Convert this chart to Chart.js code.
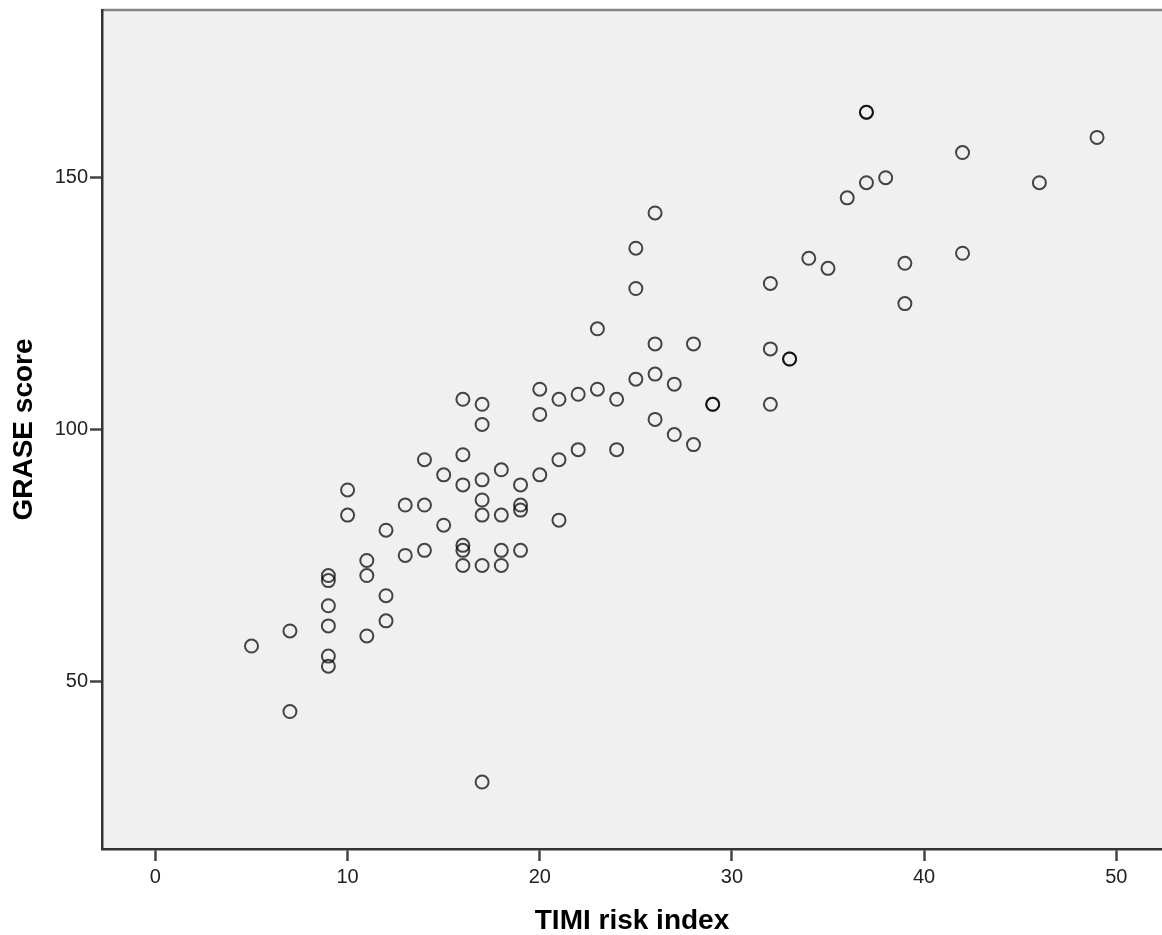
<!DOCTYPE html>
<html>
<head>
<meta charset="utf-8">
<title>GRASE vs TIMI</title>
<script src="https://cdn.jsdelivr.net/npm/chart.js@4.4.1/dist/chart.umd.min.js"></script>
<style>
  html, body { margin: 0; padding: 0; background: #fff; overflow: hidden; }
  #wrap { width: 1162px; height: 935px; position: relative; }
</style>
</head>
<body>
<div id="wrap"><canvas id="scatterChart"></canvas></div>
<script>
// data
const timi = [
    5, 7, 7, 9, 9, 9, 9, 9, 9, 10, 10, 11, 11, 11, 12, 12, 12, 13, 13,
    14, 14, 14, 15, 15, 16, 16, 16, 16, 16, 16, 17, 17, 17, 17, 17, 17, 17,
    18, 18, 18, 18, 19, 19, 19, 19, 20, 20, 20, 21, 21, 21, 22, 22, 23, 23,
    24, 24, 25, 25, 25, 26, 26, 26, 26, 27, 27, 28, 28, 29, 29,
    32, 32, 32, 33, 33, 34, 35, 36, 37, 37, 37, 38, 39, 39, 42, 42, 46, 49
];
const grase = [
    57, 60, 44, 71, 70, 65, 61, 55, 53, 88, 83, 74, 71, 59, 80, 67, 62, 85, 75,
    94, 85, 76, 91, 81, 106, 95, 89, 77, 76, 73, 105, 101, 90, 86, 83, 73, 30,
    92, 83, 76, 73, 89, 85, 84, 76, 108, 103, 91, 106, 94, 82, 107, 96, 120, 108,
    106, 96, 136, 128, 110, 143, 117, 111, 102, 109, 99, 117, 97, 105, 105,
    129, 116, 105, 114, 114, 134, 132, 146, 163, 163, 149, 150, 133, 125, 155, 135, 149, 158
];
const xTicks = [0, 10, 20, 30, 40, 50];
const yTicks = [50, 100, 150];

const FONT = '"Liberation Sans", Arial, sans-serif';

// grey plot background + top frame line
const plotFrame = {
    id: 'plotFrame',
    beforeDraw(chart) {
        const a = chart.chartArea;
        const c = chart.ctx;
        c.save();
        c.fillStyle = '#f0f0f0';
        c.fillRect(a.left, a.top, a.right - a.left, a.bottom - a.top);
        c.strokeStyle = '#858585';
        c.lineWidth = 2.5;
        c.beginPath();
        c.moveTo(a.left, a.top);
        c.lineTo(a.right, a.top);
        c.stroke();
        c.restore();
    }
};

const ctx = document.getElementById('scatterChart').getContext('2d');
new Chart(ctx, {
    type: 'scatter',
    data: {
        datasets: [{
            data: timi.map((x, i) => ({ x: x, y: grase[i] })),
            pointStyle: 'circle',
            pointRadius: 6.5,
            pointHoverRadius: 6.5,
            borderWidth: 2,
            borderColor: 'rgba(0, 0, 0, 0.72)',
            backgroundColor: 'rgba(0, 0, 0, 0)'
        }]
    },
    options: {
        responsive: true,
        maintainAspectRatio: false,
        animation: false,
        layout: { autoPadding: false, padding: { top: 10, right: 0, bottom: 0, left: 0 } },
        plugins: {
            legend: { display: false },
            tooltip: { enabled: false }
        },
        scales: {
            x: {
                type: 'linear',
                min: -2.78,
                max: 52.38,
                afterBuildTicks: s => { s.ticks = xTicks.map(v => ({ value: v })); },
                afterFit: s => { s.height = 86; s.paddingLeft = 0; s.paddingRight = 0; },
                ticks: {
                    font: { family: FONT, size: 20 },
                    color: '#222',
                    padding: 4,
                    maxRotation: 0
                },
                grid: {
                    drawOnChartArea: false,
                    tickLength: 12,
                    tickWidth: 2.5,
                    tickColor: '#444'
                },
                border: { color: '#333', width: 2.5 },
                title: {
                    display: true,
                    text: 'TIMI risk index',
                    color: '#000',
                    font: { family: FONT, size: 28, weight: 'bold' },
                    padding: { top: 0, bottom: -3 }
                }
            },
            y: {
                type: 'linear',
                min: 16.7,
                max: 183.3,
                afterBuildTicks: s => { s.ticks = yTicks.map(v => ({ value: v })); },
                afterFit: s => { s.width = 102; s.paddingTop = 0; s.paddingBottom = 0; },
                ticks: {
                    font: { family: FONT, size: 20 },
                    color: '#222',
                    padding: 2
                },
                grid: {
                    drawOnChartArea: false,
                    tickLength: 12,
                    tickWidth: 2.5,
                    tickColor: '#444'
                },
                border: { color: '#333', width: 2.5 },
                title: {
                    display: true,
                    text: 'GRASE score',
                    color: '#000',
                    font: { family: FONT, size: 28, weight: 'bold' },
                    padding: { top: 7, bottom: 0 }
                }
            }
        }
    },
    plugins: [plotFrame]
});
</script>
</body>
</html>
